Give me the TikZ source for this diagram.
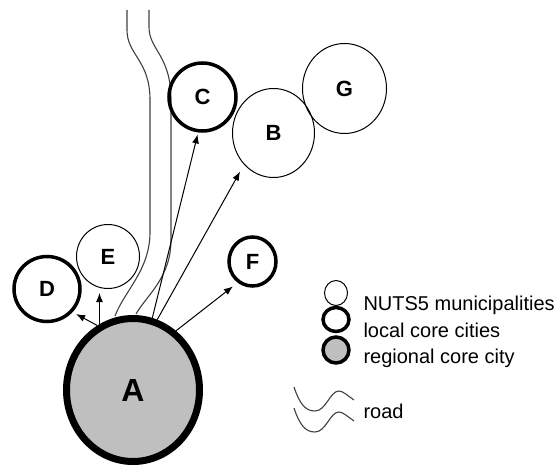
\documentclass[tikz,border=0pt]{standalone}
\usepackage{fontspec}
\setmainfont{Liberation Sans}
\usepackage{tikz}
\usetikzlibrary{arrows.meta,shapes.geometric}

\begin{document}
\begin{tikzpicture}[x=1pt,y=-1pt,>={Latex[length=9pt,width=7pt]},line width=1pt]
  \tikzstyle{every node}=[font=\fontsize{22}{22}\selectfont\bfseries]
  \tikzstyle{muni}=[ellipse,draw,line width=1pt,inner sep=0pt]
  \tikzstyle{local}=[muni,line width=3.5pt]
  \tikzstyle{regional}=[muni,line width=7pt,fill=lightgray]
  \tikzstyle{link}=[->,shorten >=3pt]
  \tikzstyle{road}=[line width=1.1pt,black!75]
  \tikzstyle{legend}=[anchor=base west,inner sep=0pt,font=\fontsize{20}{20}\selectfont]

  \useasboundingbox (0,0) rectangle (560,468);

  % roads
  \draw[road] (127,10) -- (127,30) .. controls (127,55) and (150,60) .. (150,100)
    -- (150,232) .. controls (150,270) and (125,290) .. (115,316);
  \draw[road] (149,10) -- (149,27) .. controls (149,50) and (171,55) .. (171,100)
    -- (171,240) .. controls (171,278) and (146,296) .. (136,314);

  % towns
  \node[regional,minimum width=133pt,minimum height=143pt,
        font=\fontsize{32}{32}\selectfont\bfseries] (A) at (133,390) {A};
  \node[local,minimum width=66pt,minimum height=65pt] (D) at (47,289) {D};
  \node[muni,minimum width=63pt,minimum height=64pt]  (E) at (108,256.5) {E};
  \node[local,minimum width=67pt,minimum height=68pt] (C) at (202.5,97) {C};
  \node[muni,minimum width=82pt,minimum height=89pt]  (B) at (273.5,133) {B};
  \node[muni,minimum width=84pt,minimum height=90pt]  (G) at (344.5,88.5) {G};
  \node[local,minimum width=47pt,minimum height=49pt] (F) at (252.5,261.5) {F};

  % flows out of A
  \draw[link,shorten >=4pt] (A.119) -- (D.318);
  \draw[link,shorten >=4pt] (A.117) -- (A.117 |- E.south);
  \draw[link,shorten >=2pt] (A.75) -- (C.263);
  \draw[link,shorten >=8pt] (A.71) -- (B.227);
  \draw[link,shorten >=6pt] (A.54) -- (F.235);

  % legend
  \node[muni,minimum width=23pt,minimum height=25pt] (l1) at (336,293) {};
  \node[local,minimum width=26pt,minimum height=24pt] (l2) at (336,319.5) {};
  \node[local,fill=lightgray,minimum width=26pt,minimum height=26pt] (l3) at (336,350) {};
  \node[legend] (t1) at (363,310) {NUTS5 municipalities};
  \node[legend] (t2) at (363,337) {local core cities};
  \node[legend] (t3) at (363,363) {regional core city};
  \foreach \dy in {0,21}
    \draw[road,yshift=-\dy pt] (294,387) .. controls (300,405) and (306,411) .. (315,411)
      .. controls (326,411) and (330,391) .. (339,391)
      .. controls (343,391) and (348,396) .. (354,400);
  \node[legend] (t4) at (363,418) {road};
\end{tikzpicture}
\end{document}
